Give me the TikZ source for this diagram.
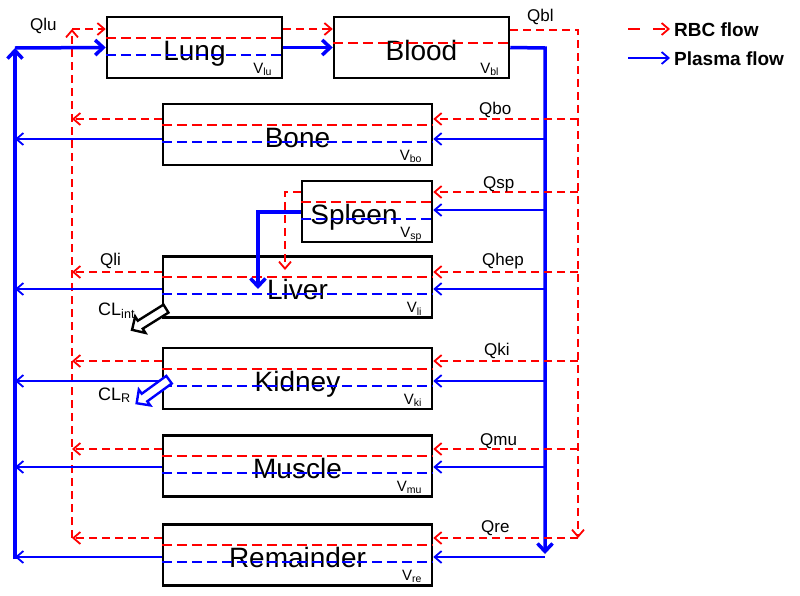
\documentclass[tikz,border=0pt]{standalone}
\usepackage{fontspec}
\setmainfont{Liberation Sans}
\usetikzlibrary{arrows.meta,shapes.arrows,calc}

\begin{document}
\begin{tikzpicture}[x=1pt,y=-1pt,
    organ/.style={draw,line width=2.5pt,minimum height=61pt,inner sep=0pt,
      font=\fontsize{28}{30}\selectfont,text height=25pt,text depth=0pt},
    rbc/.style={red,line width=1.8pt,dash pattern=on 8pt off 5pt,
      -{Straight Barb[length=7pt,width=12pt]}},
    plasma/.style={blue,line width=1.8pt,-{Straight Barb[length=7pt,width=12pt]}},
    plasmathick/.style={blue,line width=3.5pt,-{Straight Barb[length=8pt,width=15pt]}},
    redin/.style={draw=red,line width=1.6pt,dash pattern=on 10pt off 5pt},
    bluein/.style={draw=blue,line width=1.6pt,dash pattern=on 10pt off 5pt},
    qlab/.style={anchor=base west,inner sep=0pt,font=\fontsize{17}{20}\selectfont},
    vlab/.style={anchor=base east,inner sep=0pt,font=\fontsize{15}{18}\selectfont},
    cllab/.style={anchor=base west,inner sep=0pt,font=\fontsize{18}{20}\selectfont},
    clarrow/.style={single arrow,draw,fill=white,line width=2.4pt,minimum height=40pt,
      text height=7pt,text depth=0pt,inner sep=0pt,single arrow head extend=5pt,anchor=tail},
    legend/.style={anchor=base west,inner sep=0pt,font=\fontsize{19}{22}\selectfont\bfseries}]
  \useasboundingbox (0,0) rectangle (800,595);

  % compartments
  \node[organ,minimum width=175pt] (lung) at (194.5,47.5) {Lung};
  \node[organ,minimum width=175pt] (blood) at (421.5,47.5) {Blood};
  \node[organ,minimum width=269pt] (bone) at (297.5,134.5) {Bone};
  \node[organ,minimum width=130pt] (spleen) at (367,211.5) {Spleen\hspace*{26pt}};
  \node[organ,minimum width=269pt] (liver) at (297.5,287) {Liver};
  \node[organ,minimum width=269pt] (kidney) at (297.5,378.5) {Kidney};
  \node[organ,minimum width=269pt] (muscle) at (297.5,466) {Muscle};
  \node[organ,minimum width=269pt] (rem) at (297.5,555) {Remainder};

  % RBC / plasma layers
  \foreach \o in {lung,bone,spleen,liver,kidney,muscle,rem} {
    \draw[redin] ($(\o.north west)+(0,22)$) -- ($(\o.north east)+(0,22)$);
    \draw[bluein] ($(\o.north west)+(0,39)$) -- ($(\o.north east)+(0,39)$);
  }
  \draw[redin] ($(blood.north west)+(0,27)$) -- ($(blood.north east)+(0,27)$);

  % volumes
  \foreach \o/\s in {lung/lu,blood/bl,bone/bo,spleen/sp,liver/li,kidney/ki,muscle/mu,rem/re}
    \node[vlab] (v\s) at ($(\o.south east)+(-11,-6)$) {V\textsubscript{\s}};

  % arterial and venous lines
  \coordinate (rbus) at (578,30);
  \coordinate (rbusend) at (578,538);
  \coordinate (pbus) at (545,48);
  \coordinate (pbusend) at (545,554);
  \coordinate (rret) at (72,29);
  \coordinate (rretend) at (72,538);
  \coordinate (pret) at (15,48);
  \coordinate (pretend) at (15,559);

  \draw[rbc] (rretend) -- (rret);
  \draw[rbc] (rret) -- (lung.west |- rret);
  \draw[plasmathick] (pretend) -- (pret);
  \draw[plasmathick] (pret) -- (lung.west);
  \draw[rbc] (lung.east |- rret) -- (blood.west |- rret);
  \draw[plasmathick] (lung.east) -- (blood.west);
  \draw[rbc] (blood.east |- rbus) -- (rbus) -- (rbusend);
  \draw[plasmathick] (blood.east) -- (pbus) -- (pbusend);

  % tissues
  \foreach \o/\yr/\yb in {bone/119/139,liver/272/289,kidney/361/381,muscle/449/467,rem/538/557} {
    \draw[rbc] (rbus |- 0,\yr) -- (\o.east |- 0,\yr);
    \draw[plasma] (pbus |- 0,\yb) -- (\o.east |- 0,\yb);
    \draw[rbc] (\o.west |- 0,\yr) -- (rret |- 0,\yr);
    \draw[plasma] (\o.west |- 0,\yb) -- (pret |- 0,\yb);
  }
  \draw[rbc] (rbus |- 0,192) -- (spleen.east |- 0,192);
  \draw[plasma] (pbus |- 0,210) -- (spleen.east |- 0,210);
  \draw[rbc] (spleen.west |- 0,192) -- (285,192) -- (285,270);
  \draw[plasmathick] (spleen.west |- 0,212) -- (258,212) -- (258,289);

  % flows
  \node[qlab] (qlu) at (30,30) {Qlu};
  \node[qlab] (qbl) at (527,21) {Qbl};
  \node[qlab] (qbo) at (479,114) {Qbo};
  \node[qlab] (qsp) at (483,188) {Qsp};
  \node[qlab] (qhep) at (482,265) {Qhep};
  \node[qlab] (qli) at (100,265) {Qli};
  \node[qlab] (qki) at (484,355) {Qki};
  \node[qlab] (qmu) at (480,445) {Qmu};
  \node[qlab] (qre) at (481,532) {Qre};

  % clearances
  \node[clarrow,rotate=212] (clint) at (167,308) {};
  \node[clarrow,draw=blue,rotate=216] (clr) at (170,379) {};
  \node[cllab] (clintlab) at (98,315) {CL\textsubscript{int}};
  \node[cllab] (clrlab) at (98,400) {CL\textsubscript{R}};

  % legend
  \coordinate (lga) at (628,29);
  \coordinate (lgb) at (670,29);
  \coordinate (lgc) at (628,58);
  \coordinate (lgd) at (670,58);
  \draw[rbc,dash pattern=on 12pt off 13pt] (lga) -- (lgb);
  \draw[plasma] (lgc) -- (lgd);
  \node[legend] (lgrbc) at (674,36) {RBC flow};
  \node[legend] (lgplasma) at (674,65) {Plasma flow};
\end{tikzpicture}
\end{document}
